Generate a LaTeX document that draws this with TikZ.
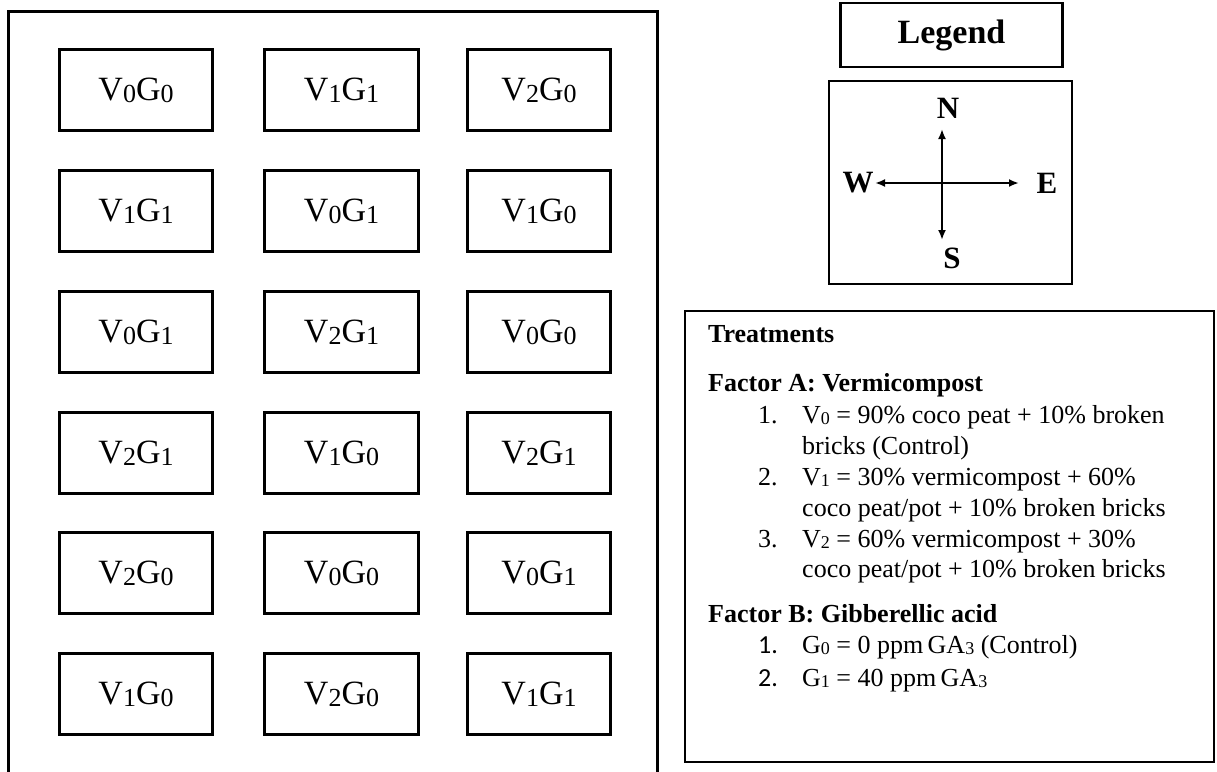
\documentclass[tikz,border=0pt]{standalone}
\usepackage{fontspec}
\setmainfont{Liberation Serif}
\newfontfamily\numsans{Carlito}
\usetikzlibrary{arrows.meta}
\newcommand{\plotlab}[2]{V\raisebox{-2pt}{\fontsize{26}{30}\selectfont #1}G\raisebox{-2pt}{\fontsize{26}{30}\selectfont #2}}
\newcommand{\tsub}[1]{\raisebox{-1pt}{\fontsize{18}{20}\selectfont #1}}
\tikzset{
  plotbox/.style={draw, line width=3pt, minimum height=81pt, inner sep=0pt, font=\fontsize{34}{40}\selectfont},
  colA/.style={plotbox, minimum width=153pt},
  colB/.style={plotbox, minimum width=154pt},
  colC/.style={plotbox, minimum width=143pt},
  txt/.style={anchor=base west, inner sep=0pt, font=\fontsize{26}{30}\selectfont},
  hdr/.style={txt, font=\fontsize{26}{30}\selectfont\bfseries},
  dir/.style={inner sep=0pt, font=\fontsize{31}{34}\selectfont\bfseries},
  comp/.style={line width=2.4pt, {Latex[length=10pt,width=8pt]}-{Latex[length=10pt,width=8pt]}}
}
\begin{document}
\begin{tikzpicture}[x=1pt,y=-1pt]
\useasboundingbox (0,0) rectangle (1217,771);
% field frame (open at the bottom)
\coordinate (fbl) at (8.5,780);
\coordinate (ftl) at (8.5,11.5);
\coordinate (ftr) at (657.5,11.5);
\coordinate (fbr) at (657.5,780);
\draw[line width=3pt] (fbl) -- (ftl) -- (ftr) -- (fbr);
% plots
\node[colA] (p11) at (136,90) {\plotlab{0}{0}};
\node[colB] (p12) at (341.5,90) {\plotlab{1}{1}};
\node[colC] (p13) at (539,90) {\plotlab{2}{0}};
\node[colA] (p21) at (136,211) {\plotlab{1}{1}};
\node[colB] (p22) at (341.5,211) {\plotlab{0}{1}};
\node[colC] (p23) at (539,211) {\plotlab{1}{0}};
\node[colA] (p31) at (136,332) {\plotlab{0}{1}};
\node[colB] (p32) at (341.5,332) {\plotlab{2}{1}};
\node[colC] (p33) at (539,332) {\plotlab{0}{0}};
\node[colA] (p41) at (136,453) {\plotlab{2}{1}};
\node[colB] (p42) at (341.5,453) {\plotlab{1}{0}};
\node[colC] (p43) at (539,453) {\plotlab{2}{1}};
\node[colA] (p51) at (136,573) {\plotlab{2}{0}};
\node[colB] (p52) at (341.5,573) {\plotlab{0}{0}};
\node[colC] (p53) at (539,573) {\plotlab{0}{1}};
\node[colA] (p61) at (136,694) {\plotlab{1}{0}};
\node[colB] (p62) at (341.5,694) {\plotlab{2}{0}};
\node[colC] (p63) at (539,694) {\plotlab{1}{1}};
% legend
\node[draw, line width=2.5pt, minimum width=222pt, minimum height=64pt, inner sep=0pt,
      font=\fontsize{34}{38}\selectfont\bfseries] (legend) at (951.5,35) {Legend};
\node[draw, line width=2.5pt, minimum width=243pt, minimum height=203pt, inner sep=0pt] (compass) at (950.5,182.5) {};
\coordinate (nEnd) at (942,129);
\coordinate (sEnd) at (942,240);
\coordinate (wEnd) at (875,183);
\coordinate (eEnd) at (1019,183);
\draw[comp] (nEnd) -- (sEnd);
\draw[comp] (wEnd) -- (eEnd);
\node[dir] (N) at (948,108) {N};
\node[dir] (S) at (952,258) {S};
\node[dir] (W) at (858,183) {W};
\node[dir] (E) at (1047,183) {E};
% treatments
\node[draw, line width=2pt, minimum width=529pt, minimum height=451pt, inner sep=0pt] (treat) at (949.5,536.5) {};
\node[hdr] (th) at (708,342) {Treatments};
\node[hdr] (fa) at (708,391) {Factor A: Vermicompost};
\node[txt] (a1n) at (758,423) {1.};
\node[txt] (a1) at (802,423) {V\tsub{0} = 90\% coco peat + 10\% broken};
\node[txt] (a1b) at (802,454) {bricks (Control)};
\node[txt] (a2n) at (758,485) {2.};
\node[txt] (a2) at (802,485) {V\tsub{1} = 30\% vermicompost + 60\%};
\node[txt] (a2b) at (802,516) {coco peat/pot + 10\% broken bricks};
\node[txt] (a3n) at (758,547) {3.};
\node[txt] (a3) at (802,547) {V\tsub{2} = 60\% vermicompost + 30\%};
\node[txt] (a3b) at (802,577) {coco peat/pot + 10\% broken bricks};
\node[hdr] (fb) at (708,622) {Factor B: Gibberellic acid};
\node[txt, font=\fontsize{26}{30}\selectfont\numsans] (b1n) at (758,653) {1.};
\node[txt] (b1) at (802,653) {G\tsub{0} = 0 ppm\,GA\tsub{3} (Control)};
\node[txt, font=\fontsize{26}{30}\selectfont\numsans] (b2n) at (758,686) {2.};
\node[txt] (b2) at (802,686) {G\tsub{1} = 40 ppm\,GA\tsub{3}};
\end{tikzpicture}
\end{document}
